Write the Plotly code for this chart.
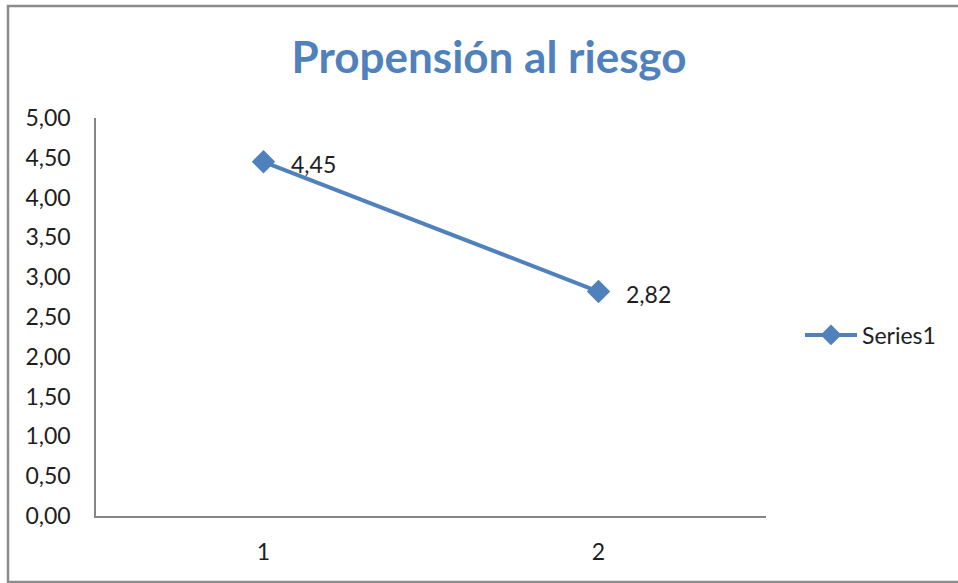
import plotly.graph_objects as go

# Series data
categories = [1, 2]
values = [4.45, 2.82]
series_name = "Series1"
title_text = "Propensión al riesgo"
y_ticks = [0, 0.5, 1, 1.5, 2, 2.5, 3, 3.5, 4, 4.5, 5]

BLUE = "#4F81BD"
AXIS = "#868686"
TEXT = "#1E1E1E"
FONT = "Lato, Calibri, 'Noto Sans', sans-serif"

fig = go.Figure()
fig.add_trace(go.Scatter(
    x=categories,
    y=values,
    name=series_name,
    mode="lines+markers",
    line=dict(color=BLUE, width=4),
    marker=dict(symbol="diamond", size=18, color=BLUE),
    cliponaxis=False,
))

# value labels to the right of each point
for xv, yv in zip(categories, values):
    fig.add_annotation(
        x=xv, y=yv, xref="x", yref="y",
        text=f"{yv:.2f}".replace(".", ","),
        showarrow=False, xanchor="left", yanchor="middle",
        xshift=25, yshift=-2,
        font=dict(family=FONT, size=23, color=TEXT),
    )

W, H = 958, 583
L, R, T, B = 96, 192, 118, 67
pw, ph = W - L - R, H - T - B

def px(x):
    return (x - L) / pw

def py(y):
    return (H - B - y) / ph

fig.update_layout(
    width=W, height=H,
    margin=dict(l=L, r=R, t=T, b=B),
    paper_bgcolor="white",
    plot_bgcolor="white",
    separators=",.",
    font=dict(family=FONT, size=23, color=TEXT),
    title=dict(
        text="<b>" + title_text + "</b>",
        font=dict(family=FONT, size=44, color=BLUE),
        x=px(489), xref="paper", xanchor="center",
        y=1 - 58 / H, yref="container", yanchor="middle",
    ),
    xaxis=dict(
        range=[0.5, 2.5],
        tickvals=categories,
        ticktext=[str(c) for c in categories],
        showgrid=False, zeroline=False,
        showline=True, linecolor=AXIS, linewidth=1.5,
        ticks="", ticklabelstandoff=15,
    ),
    yaxis=dict(
        range=[0, 5],
        tickvals=y_ticks,
        tickformat=".2f",
        showgrid=False, zeroline=False,
        showline=True, linecolor=AXIS, linewidth=1.5,
        ticks="", ticklabelstandoff=19,
    ),
    showlegend=True,
    legend=dict(
        x=px(800), y=py(335), xanchor="left", yanchor="middle",
        font=dict(family=FONT, size=23, color=TEXT),
        itemwidth=52,
        bgcolor="rgba(0,0,0,0)",
    ),
    shapes=[dict(
        type="rect", xref="paper", yref="paper",
        x0=px(8), x1=px(962), y0=py(582), y1=py(6),
        line=dict(color="#8C8C8C", width=2.5),
        fillcolor="rgba(0,0,0,0)", layer="above",
    )],
)

fig.write_html("out.html")
